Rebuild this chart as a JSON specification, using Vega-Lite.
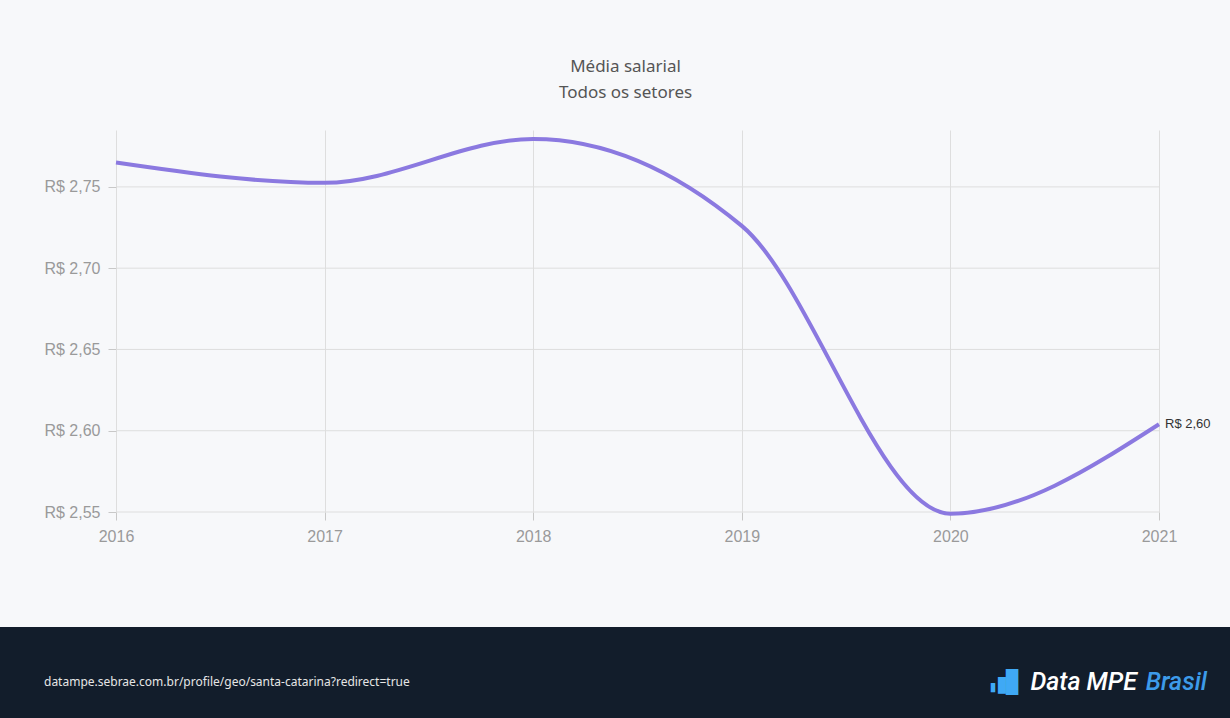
{
  "$schema": "https://vega.github.io/schema/vega-lite/v6.json",
  "background": "#f7f8fa",
  "padding": {"top": 58, "left": 0, "right": 0, "bottom": 0},
  "spacing": 0,
  "config": {
    "locale": {"number": {"decimal": ",", "thousands": ".", "grouping": [3], "currency": ["R$ ", ""]}},
    "view": {"stroke": null},
    "axis": {
      "labelFont": "Liberation Sans",
      "labelFontSize": 16,
      "labelColor": "#9a9a9a",
      "tickColor": "#c8c8c8",
      "gridColor": "#dedede",
      "domain": false,
      "tickSize": 8,
      "labelPadding": 8,
      "title": null
    }
  },
  "vconcat": [
    {
      "width": 1159,
      "height": 382,
      "title": {
        "text": ["Média salarial", "Todos os setores"],
        "font": "Noto Sans",
        "fontSize": 17,
        "fontWeight": "normal",
        "color": "#555555",
        "lineHeight": 26,
        "offset": 28,
        "anchor": "middle",
        "frame": "group",
        "dx": 46
      },
      "data": {
        "values": [
          {"ano": 2016, "valor": 2.765},
          {"ano": 2017, "valor": 2.7525},
          {"ano": 2018, "valor": 2.7795},
          {"ano": 2019, "valor": 2.726},
          {"ano": 2020, "valor": 2.549},
          {"ano": 2021, "valor": 2.604}
        ]
      },
      "layer": [
        {
          "data": {"values": [{"v": 2.55}, {"v": 2.6}, {"v": 2.65}, {"v": 2.7}, {"v": 2.75}]},
          "mark": {"type": "rule", "color": "#dedede", "strokeWidth": 1},
          "encoding": {
            "y": {"field": "v", "type": "quantitative", "scale": {"domain": [2.55, 2.785], "nice": false, "zero": false}},
            "x": {"datum": 2016, "type": "quantitative", "scale": {"domain": [2015.4439, 2021], "nice": false, "zero": false}},
            "x2": {"datum": 2021}
          }
        },
        {
          "mark": {"type": "line", "interpolate": "monotone", "color": "#8b79e0", "strokeWidth": 4},
          "encoding": {
            "x": {
              "field": "ano",
              "type": "quantitative",
              "scale": {"domain": [2015.4439, 2021], "nice": false, "zero": false},
              "axis": {"values": [2016, 2017, 2018, 2019, 2020, 2021], "format": "d", "grid": true, "labelFlush": false, "minExtent": 115}
            },
            "y": {
              "field": "valor",
              "type": "quantitative",
              "scale": {"domain": [2.55, 2.785], "nice": false, "zero": false},
              "axis": {"values": [2.55, 2.6, 2.65, 2.7, 2.75], "format": "$.2f", "grid": false, "offset": -116, "minExtent": 0}
            }
          }
        },
        {
          "transform": [{"filter": "datum.ano == 2021"}],
          "mark": {"type": "text", "align": "left", "dx": 6, "fontSize": 13, "font": "Liberation Sans", "color": "#333333"},
          "encoding": {
            "x": {"field": "ano", "type": "quantitative"},
            "y": {"field": "valor", "type": "quantitative"},
            "text": {"field": "valor", "type": "quantitative", "format": "$.2f"}
          }
        }
      ]
    },
    {
      "width": 1230,
      "height": 91,
      "view": {"fill": "#121d2b", "stroke": null},
      "data": {
        "values": [
          {"parte": "url", "rotulo": "datampe.sebrae.com.br/profile/geo/santa-catarina?redirect=true"},
          {"parte": "logo", "rotulo": "Data MPE"},
          {"parte": "logo", "rotulo": "Brasil"},
          {"parte": "logo", "rotulo": "▮"}
        ]
      },
      "encoding": {
        "x": {"field": "parte", "type": "nominal", "scale": {"type": "point", "domain": ["url", "logo"], "padding": 0}, "axis": null},
        "text": {"field": "rotulo"}
      },
      "layer": [
        {
          "transform": [{"filter": "datum.parte == 'url'"}],
          "mark": {"type": "text", "align": "left", "dx": 44, "dy": 9, "font": "Noto Sans", "fontSize": 12, "color": "#e6e6e6"}
        },
        {
          "transform": [{"filter": "datum.rotulo == 'Data MPE'"}],
          "mark": {"type": "text", "align": "right", "dx": -93, "dy": 9, "font": "Roboto", "fontSize": 25, "fontStyle": "italic", "fontWeight": 500, "color": "#ffffff"}
        },
        {
          "transform": [{"filter": "datum.rotulo == 'Brasil'"}],
          "mark": {"type": "text", "align": "right", "dx": -23, "dy": 9, "font": "Roboto", "fontSize": 25, "fontStyle": "italic", "fontWeight": 500, "color": "#3d9be9"}
        },
        {
          "transform": [{"filter": "datum.rotulo == '▮'"}],
          "mark": {"type": "text", "align": "center", "baseline": "alphabetic", "dx": -237, "dy": 18, "font": "DejaVu Sans", "fontSize": 12, "fontStyle": "italic", "color": "#3fa9f5"}
        },
        {
          "transform": [{"filter": "datum.rotulo == '▮'"}],
          "mark": {"type": "text", "align": "center", "baseline": "alphabetic", "dx": -228, "dy": 18, "font": "DejaVu Sans", "fontSize": 22, "fontStyle": "italic", "color": "#3fa9f5"}
        },
        {
          "transform": [{"filter": "datum.rotulo == '▮'"}],
          "mark": {"type": "text", "align": "center", "baseline": "alphabetic", "dx": -218, "dy": 18, "font": "DejaVu Sans", "fontSize": 34, "fontStyle": "italic", "color": "#3fa9f5"}
        }
      ]
    }
  ]
}
